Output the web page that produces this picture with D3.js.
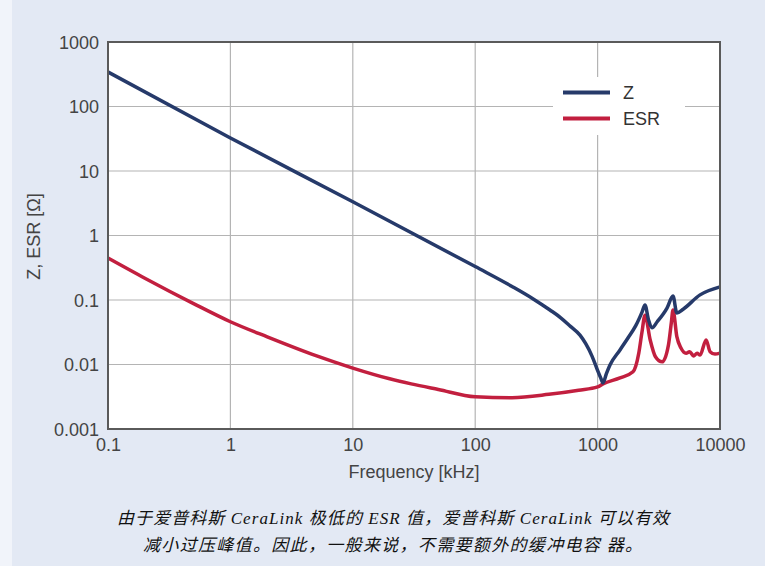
<!DOCTYPE html>
<html>
<head>
<meta charset="utf-8">
<script src="https://cdn.jsdelivr.net/npm/d3@7"></script>
<style>
  body { margin: 0; background: #e3e9f4; }
  svg { display: block; }
  .tick text { font-family: "Liberation Sans", Arial, sans-serif; font-size: 18px; fill: #444; }
</style>
</head>
<body>
<svg width="765" height="566"></svg>
<script>
// values (frequency in kHz, impedance in ohm)
var zFreq = [0.1, 1, 10, 100, 200, 300, 408, 500, 600, 718, 800, 900, 990, 1060, 1107, 1180, 1262, 1524, 1770, 2050, 2307, 2440, 2600, 2780, 3070, 3690, 4130, 4440, 5000, 6870, 10000];
var zVal  = [343, 32.5, 3.34, 0.33, 0.162, 0.103, 0.07, 0.053, 0.039, 0.0285, 0.021, 0.0135, 0.0085, 0.0062, 0.0052, 0.0072, 0.0098, 0.0168, 0.0258, 0.04, 0.065, 0.084, 0.05, 0.037, 0.046, 0.075, 0.115, 0.063, 0.072, 0.12, 0.16];

var esrFreq = [0.1, 0.2, 0.5, 1, 2, 5, 10, 20, 30, 50, 100, 200, 400, 700, 1000, 1107, 1524, 1946, 2170, 2300, 2440, 2690, 2970, 3370, 3790, 4000, 4130, 4440, 4800, 5280, 5650, 6080, 6500, 6870, 7700, 8300, 9100, 10000];
var esrVal  = [0.448, 0.218, 0.088, 0.046, 0.0268, 0.0137, 0.0088, 0.006, 0.005, 0.0041, 0.00316, 0.00306, 0.00345, 0.0040, 0.0045, 0.0050, 0.0062, 0.0077, 0.015, 0.031, 0.058, 0.024, 0.0132, 0.011, 0.02, 0.044, 0.07, 0.027, 0.018, 0.0149, 0.0158, 0.0136, 0.0149, 0.014, 0.024, 0.0158, 0.0145, 0.015];

var xTicks = [0.1, 1, 10, 100, 1000, 10000];
var yTicks = [0.001, 0.01, 0.1, 1, 10, 100, 1000];
var xTickLabels = ["0.1", "1", "10", "100", "1000", "10000"];
var yTickLabels = ["0.001", "0.01", "0.1", "1", "10", "100", "1000"];

var captionLines = [
    "由于爱普科斯 CeraLink 极低的 ESR 值，爱普科斯 CeraLink 可以有效",
    "减小过压峰值。因此，一般来说，不需要额外的缓冲电容 器。"
];

var svg = d3.select("svg"),
    margin = {top: 42, right: 45, bottom: 137, left: 108},
    width = +svg.attr("width") - margin.left - margin.right,
    height = +svg.attr("height") - margin.top - margin.bottom;

// lighter strip on the left edge
svg.append("rect").attr("x", 0).attr("y", 0).attr("width", 12).attr("height", 566).attr("fill", "#f1f4fa");

var g = svg.append("g").attr("transform", "translate(" + margin.left + "," + margin.top + ")");

var x = d3.scaleLog().domain([0.1, 10000]).range([0, width]);
var y = d3.scaleLog().domain([0.001, 1000]).range([height, 0]);

g.append("rect").attr("width", width).attr("height", height).attr("fill", "#fff");

// grid
g.append("g").selectAll("line").data(xTicks).enter().append("line")
    .attr("x1", d => x(d)).attr("x2", d => x(d))
    .attr("y1", 0).attr("y2", height)
    .attr("stroke", "#b4b4b4").attr("stroke-width", 1.2);
g.append("g").selectAll("line").data(yTicks).enter().append("line")
    .attr("y1", d => y(d)).attr("y2", d => y(d))
    .attr("x1", 0).attr("x2", width)
    .attr("stroke", "#b4b4b4").attr("stroke-width", 1.2);

// legend box (white, hides the grid)
g.append("rect").attr("x", 445).attr("y", 35).attr("width", 132).attr("height", 58).attr("fill", "#fff");

// axes
var xAxis = g.append("g")
    .attr("transform", "translate(0," + height + ")")
    .call(d3.axisBottom(x).tickValues(xTicks).tickFormat((d, i) => xTickLabels[i]).tickSize(0).tickPadding(8));
var yAxis = g.append("g")
    .call(d3.axisLeft(y).tickValues(yTicks).tickFormat((d, i) => yTickLabels[i]).tickSize(0).tickPadding(9));
xAxis.select(".domain").remove();
yAxis.select(".domain").remove();
xAxis.selectAll(".tick text").attr("dy", "0.75em");
yAxis.selectAll(".tick text").attr("dy", "0.36em");

// curves
var line = d3.line().curve(d3.curveMonotoneX);

g.append("path")
    .attr("d", line(esrFreq.map((f, i) => [x(f), y(esrVal[i])])))
    .attr("fill", "none").attr("stroke", "#c21f3f").attr("stroke-width", 3.5)
    .attr("stroke-linejoin", "round");

g.append("path")
    .attr("d", line(zFreq.map((f, i) => [x(f), y(zVal[i])])))
    .attr("fill", "none").attr("stroke", "#263a6a").attr("stroke-width", 3.5)
    .attr("stroke-linejoin", "round");

// frame
g.append("rect").attr("width", width).attr("height", height)
    .attr("fill", "none").attr("stroke", "#5a5a5a").attr("stroke-width", 2);

// legend
var legend = [["Z", "#263a6a"], ["ESR", "#c21f3f"]];
legend.forEach(function(d, i) {
    var ly = 50.5 + i * 26;
    g.append("line").attr("x1", 455).attr("x2", 502).attr("y1", ly).attr("y2", ly)
        .attr("stroke", d[1]).attr("stroke-width", 4);
    g.append("text").attr("x", 515).attr("y", ly).attr("dy", "0.36em")
        .style("font-family", "Liberation Sans, Arial, sans-serif").style("font-size", "18px")
        .attr("fill", "#333").text(d[0]);
});

// axis titles
svg.append("text")
    .attr("text-anchor", "middle")
    .attr("x", margin.left + width / 2)
    .attr("y", 478)
    .style("font-family", "Liberation Sans, Arial, sans-serif").style("font-size", "18px")
    .attr("fill", "#444")
    .text("Frequency [kHz]");

svg.append("text")
    .attr("text-anchor", "middle")
    .attr("transform", "translate(40," + (margin.top + height / 2 + 1) + ") rotate(-90)")
    .style("font-family", "Liberation Sans, Arial, sans-serif").style("font-size", "18px")
    .attr("fill", "#444")
    .text("Z, ESR [Ω]");

// caption
var capX = [117, 143], capW = [552, 499], capY = [524, 551];
svg.selectAll(".caption").data(captionLines).enter().append("text")
    .attr("class", "caption")
    .attr("x", (d, i) => capX[i])
    .attr("y", (d, i) => capY[i])
    .attr("textLength", (d, i) => capW[i])
    .attr("lengthAdjust", "spacing")
    .style("font-family", "Liberation Serif, Noto Sans CJK SC, serif")
    .style("font-style", "italic")
    .style("font-size", "17px")
    .attr("fill", "#111")
    .text(d => d);
</script>
</body>
</html>
